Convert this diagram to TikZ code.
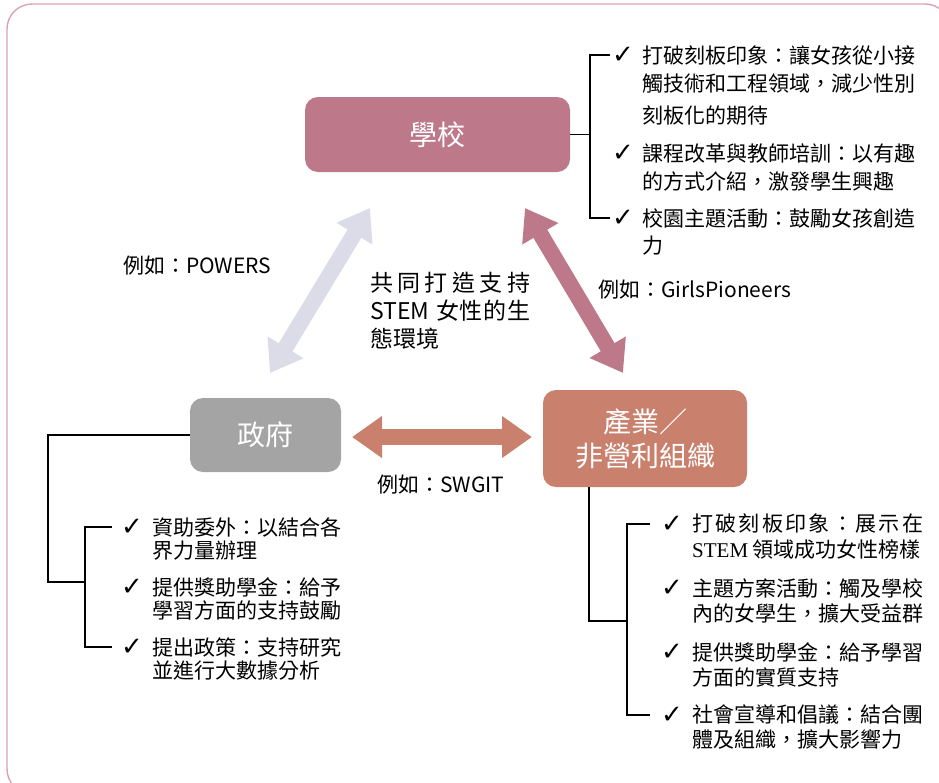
\documentclass[tikz,border=0pt]{standalone}
\usepackage{fontspec}
\setmainfont{Noto Sans CJK TC}
\newfontfamily\chk{DejaVu Sans}
\newfontfamily\serifen{Liberation Serif}
\usetikzlibrary{arrows.meta}
\definecolor{schoolc}{HTML}{BD788A}
\definecolor{govc}{HTML}{A3A4A3}
\definecolor{indc}{HTML}{C9806D}
\definecolor{lavc}{HTML}{DCDCE8}
\definecolor{framec}{HTML}{D9A3B5}
\begin{document}
\begin{tikzpicture}[x=1pt,y=-1pt,
  box/.style={rounded corners=13pt, text=white, font=\fontsize{28}{34}\selectfont, inner sep=0, align=center},
  item/.style={anchor=west, align=left, inner sep=0},
  chkm/.style={anchor=west, inner sep=0, font=\chk\fontsize{26}{26}\selectfont},
  conn/.style={draw=black, line width=1.1pt},
  dblarrow/.style={line width=16pt, {Triangle[length=30pt,width=40pt]}-{Triangle[length=30pt,width=40pt]}},
  lbl/.style={anchor=west, inner sep=0, font=\fontsize{21}{28}\selectfont}
]
\useasboundingbox (0,0) rectangle (939,782);
\clip (0,0) rectangle (939,782);
\draw[draw=framec, line width=1.4pt, rounded corners=25pt] (7,4) rectangle (950,794);

% boxes
\node[box, fill=schoolc, minimum width=265pt, minimum height=75pt] (school) at (437.5,134.5) {學校};
\node[box, fill=govc, minimum width=151pt, minimum height=74pt] (gov) at (265.5,435) {政府};
\node[box, fill=indc, minimum width=204pt, minimum height=97pt] (ind) at (645,438.5) {產業／\\非營利組織};

% arrows
\coordinate (ga) at (270,373);
\coordinate (gb) at (370,208);
\coordinate (pa) at (525,208);
\coordinate (pb) at (623,373);
\coordinate (oa) at (352,437);
\coordinate (ob) at (532,437);
\draw[dblarrow, draw=lavc, fill=lavc] (ga) -- (gb);
\draw[dblarrow, draw=schoolc, fill=schoolc] (pa) -- (pb);
\draw[dblarrow, draw=indc, fill=indc] (oa) -- (ob);

% center labels
\node[lbl] (lpow) at (123,266) {例如：POWERS};
\node[lbl] (lgirl) at (598,290) {例如：GirlsPioneers};
\node[lbl] (lswg) at (377,485) {例如：SWGIT};
\node[anchor=west, inner sep=0, align=left, font=\fontsize{23}{28}\selectfont] (eco) at (370,310.5)
  {\hbox to 160pt{共\hfil 同\hfil 打\hfil 造\hfil 支\hfil 持}\\
   \hbox to 160pt{STEM\hskip 6pt plus 1fil 女\hfil 性\hfil 的\hfil 生}\\
   態環境};

% school list
\node[chkm] (sc1) at (612,55) {✓};
\node[chkm] (sc2) at (612,153) {✓};
\node[chkm] (sc3) at (612,218) {✓};
\node[item, font=\fontsize{21}{28}\selectfont] (st1) at (642,85)
  {打破刻板印象：讓女孩從小接\\觸技術和工程領域，減少性別\\[4pt]刻板化的期待};
\node[item, font=\fontsize{21}{28}\selectfont] (st2) at (642,167.5)
  {課程改革與教師培訓：以有趣\\的方式介紹，激發學生興趣};
\node[item, font=\fontsize{21}{27}\selectfont] (st3) at (642,231.5)
  {校園主題活動：鼓勵女孩創造\\力};
\coordinate (sbx) at (590,0);
\draw[conn] (school.east) -- (school.east -| sbx);
\draw[conn] ([xshift=-2pt]sc1.west) -- (sc1.west -| sbx) -- (sc3.west -| sbx) -- ([xshift=-2pt]sc3.west);

% gov list
\node[chkm] (gc1) at (121,527) {✓};
\node[chkm] (gc2) at (121,587) {✓};
\node[chkm] (gc3) at (121,647) {✓};
\node[item, font=\fontsize{21}{23}\selectfont] (gt1) at (152,538.5) {資助委外：以結合各\\界力量辦理};
\node[item, font=\fontsize{21}{23}\selectfont] (gt2) at (152,598.5) {提供獎助學金：給予\\學習方面的支持鼓勵};
\node[item, font=\fontsize{21}{23}\selectfont] (gt3) at (152,658.5) {提出政策：支持研究\\並進行大數據分析};
\coordinate (gbx) at (85,0);
\coordinate (gfar) at (48,582);
\draw[conn] (gov.west) -- (gov.west -| gfar) -- (gfar) -- (gfar -| gbx);
\draw[conn] ([xshift=-9pt]gc1.west) -- (gc1.west -| gbx) -- (gc3.west -| gbx) -- ([xshift=-9pt]gc3.west);

% industry list
\node[chkm] (ic1) at (661,524) {✓};
\node[chkm] (ic2) at (661,588) {✓};
\node[chkm] (ic3) at (661,652) {✓};
\node[chkm] (ic4) at (661,715) {✓};
\node[item, font=\fontsize{21}{26}\selectfont] (it1) at (692,537)
  {\hbox to 231pt{打\hfil 破\hfil 刻\hfil 板\hfil 印\hfil 象\hfil ：\hfil 展\hfil 示\hfil 在}\\{\serifen STEM} 領域成功女性榜樣};
\node[item, font=\fontsize{21}{25}\selectfont] (it2) at (692,600.5) {主題方案活動：觸及學校\\內的女學生，擴大受益群};
\node[item, font=\fontsize{21}{25}\selectfont] (it3) at (692,664.5) {提供獎助學金：給予學習\\方面的實質支持};
\node[item, font=\fontsize{21}{25}\selectfont] (it4) at (692,727.5) {社會宣導和倡議：結合團\\體及組織，擴大影響力};
\coordinate (ibx) at (627,0);
\coordinate (ijoin) at (589,621);
\draw[conn] ([xshift=-56pt]ind.south) -- (ijoin) -- (ijoin -| ibx);
\draw[conn] ([xshift=-11pt]ic1.west) -- (ic1.west -| ibx) -- (ic4.west -| ibx) -- ([xshift=-11pt]ic4.west);
\end{tikzpicture}
\end{document}
